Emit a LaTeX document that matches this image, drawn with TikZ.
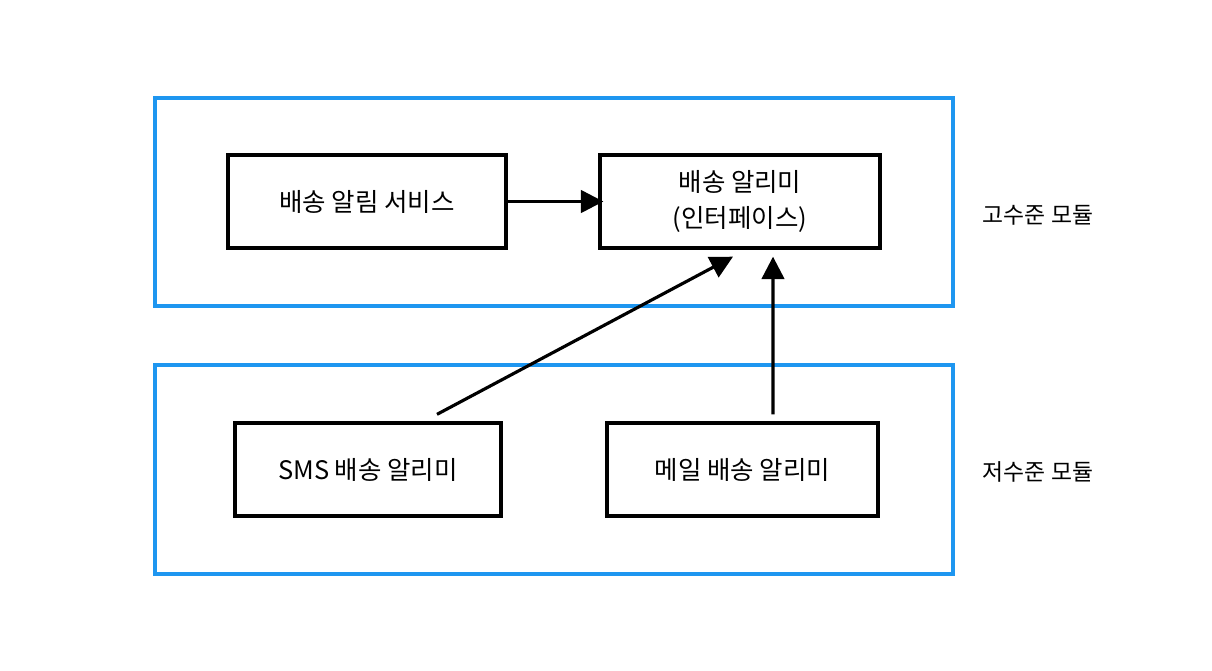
\documentclass[tikz,border=0pt]{standalone}
\usepackage{fontspec}
\setmainfont{Noto Sans CJK KR}
\usetikzlibrary{arrows.meta}
\definecolor{skyblue}{RGB}{30,150,240}
\tikzset{
  modbox/.style={draw=skyblue, line width=2.4pt, minimum width=15.96cm, inner sep=0pt},
  compbox/.style={draw=black, line width=1.9pt, fill=white, minimum height=1.86cm, inner sep=0pt, align=center, font=\fontsize{14.5}{21}\selectfont},
  modlabel/.style={font=\fontsize{13}{15}\selectfont},
  conn/.style={draw=black, line width=1.8pt, -{Triangle[length=0.45cm,width=0.45cm]}}
}
\begin{document}
\begin{tikzpicture}[x=0.02cm,y=-0.02cm]
\useasboundingbox (0,0) rectangle (1212,670);
\node[modbox, minimum height=4.16cm] (high) at (554,202) {};
\node[modbox, minimum height=4.18cm] (low) at (554,469.5) {};
\node[compbox, minimum width=5.56cm] (svc) at (367,201.5) {배송 알림 서비스};
\node[compbox, minimum width=5.6cm] (iface) at (740,201.5) {배송 알리미\\(인터페이스)};
\node[compbox, minimum width=5.32cm] (sms) at (368,469.5) {SMS 배송 알리미};
\node[compbox, minimum width=5.42cm] (mail) at (742.5,469.5) {메일 배송 알리미};
\node[modlabel] (hl) at (1038,215) {고수준 모듈};
\node[modlabel] (ll) at (1038,472) {저수준 모듈};
\draw[conn] (svc.east) -- ([xshift=0.1cm]iface.west);
\draw[conn] ([xshift=1.38cm,yshift=0.14cm]sms.north) -- ([xshift=-0.14cm,yshift=-0.14cm]iface.south);
\draw[conn] ([xshift=0.61cm,yshift=0.14cm]mail.north) -- ([xshift=0.66cm,yshift=-0.14cm]iface.south);
\end{tikzpicture}
\end{document}
